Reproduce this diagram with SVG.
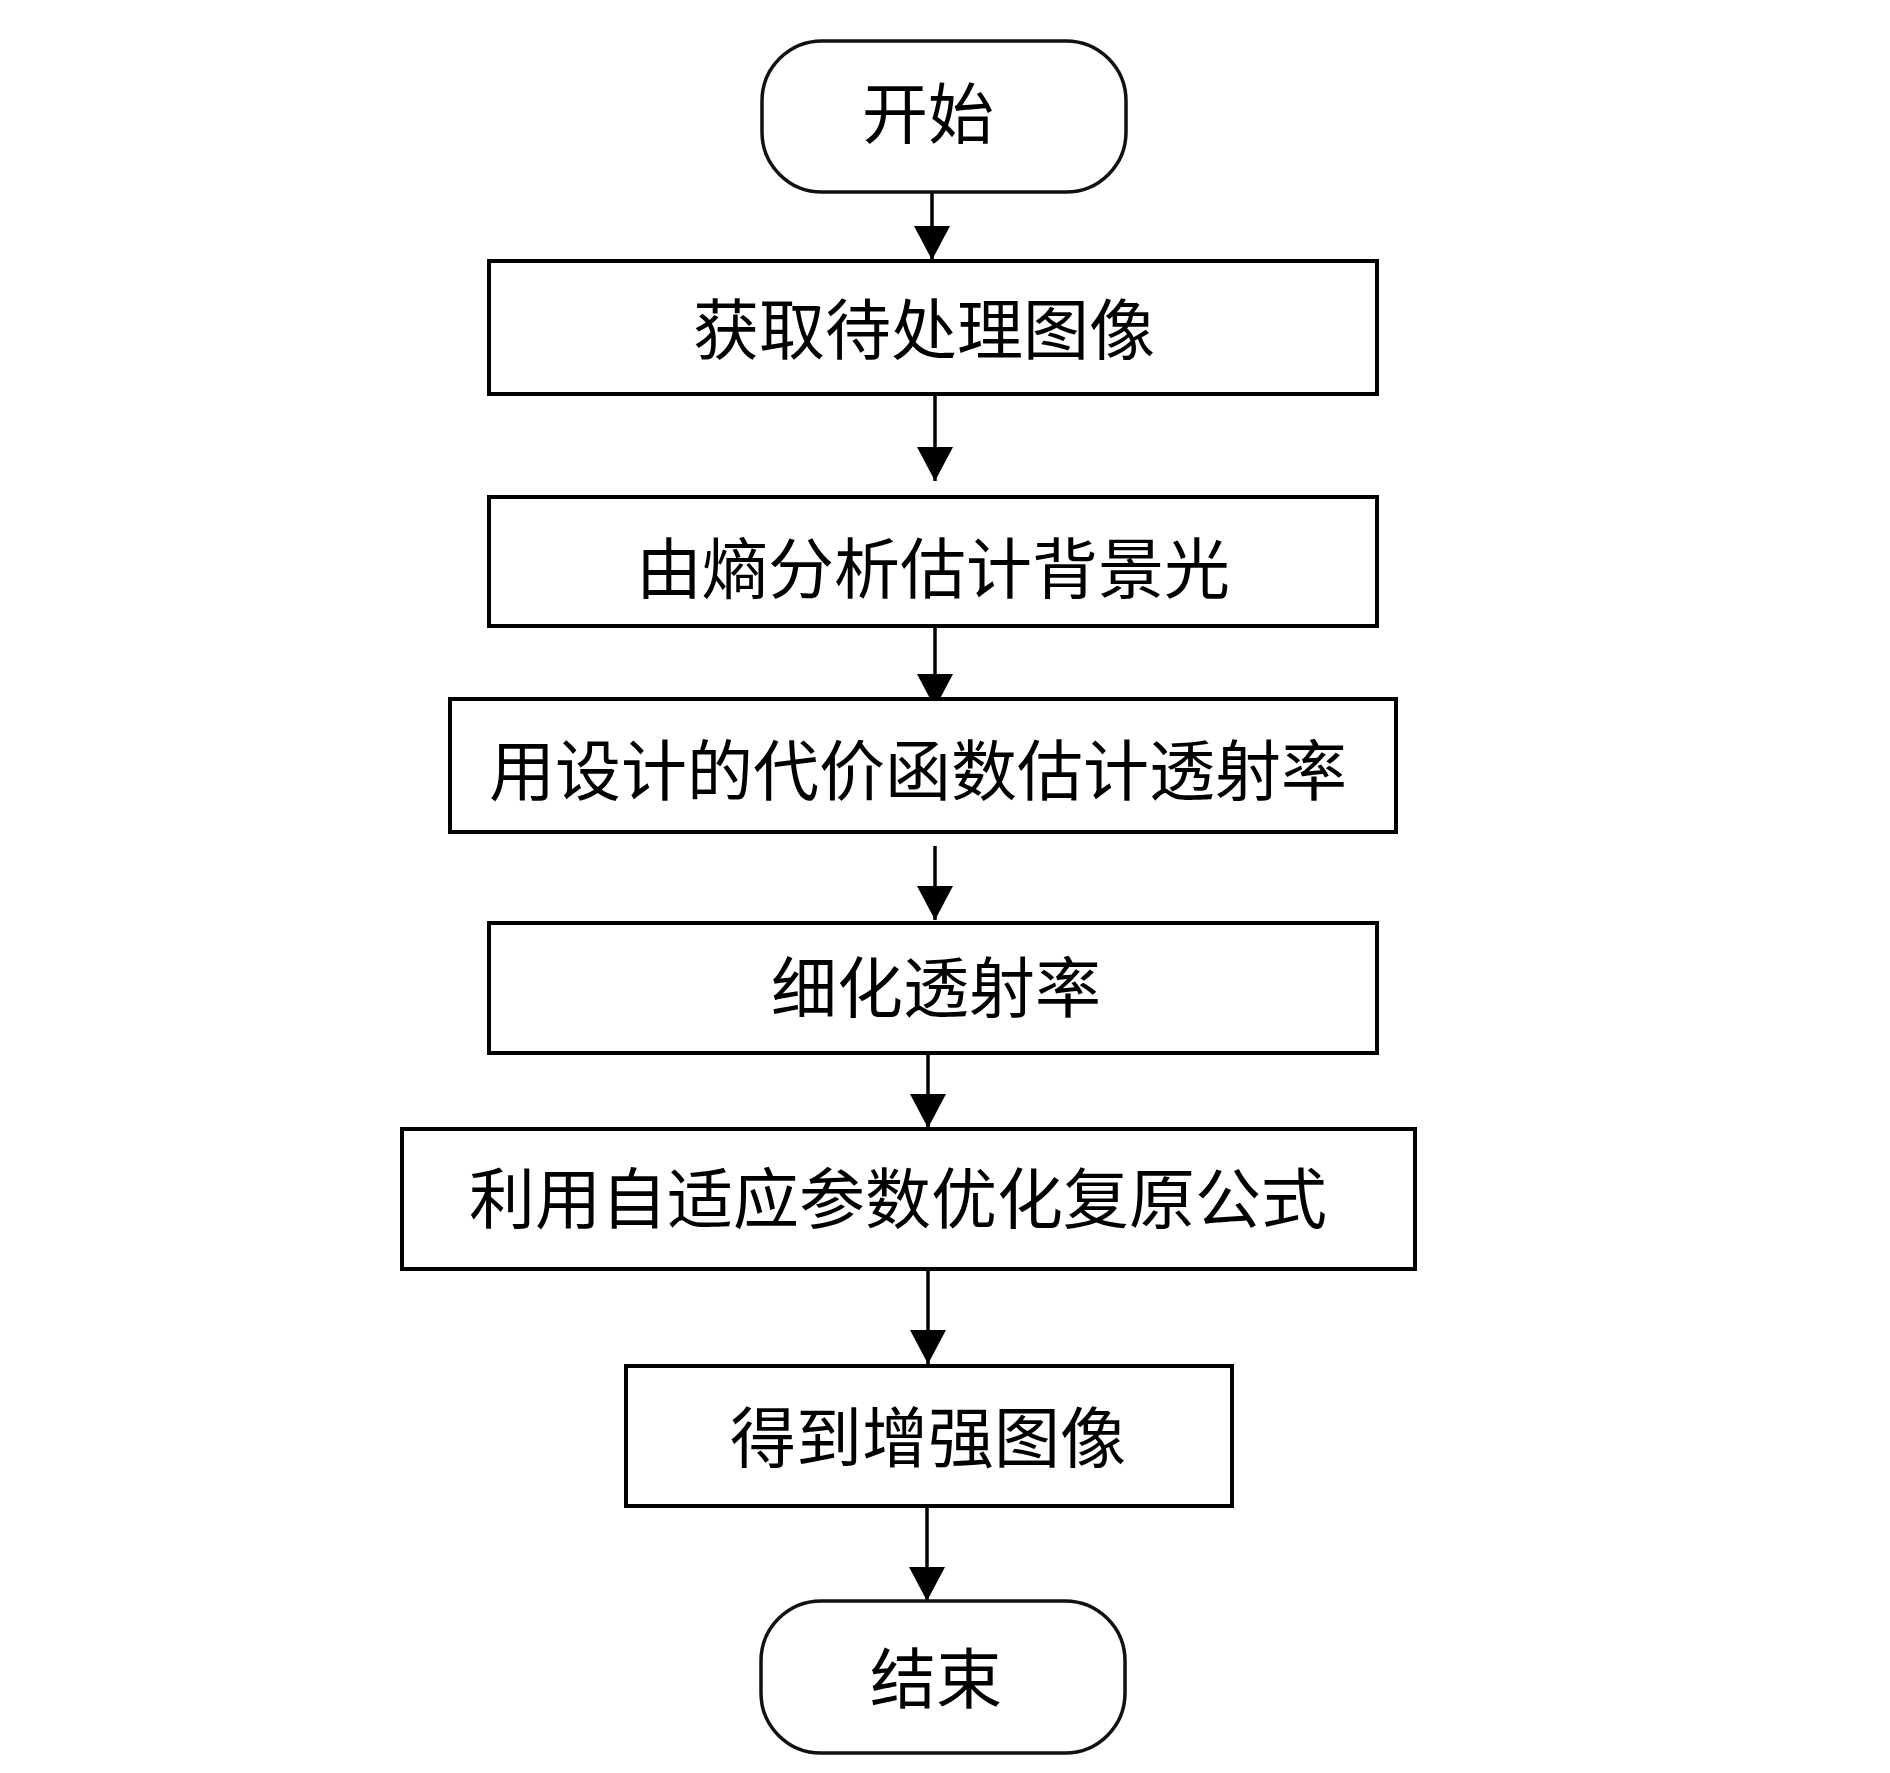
<svg xmlns="http://www.w3.org/2000/svg" width="1890" height="1773" viewBox="0 0 1890 1773">
<style>
.box{fill:#fff;stroke:#000;stroke-width:4}
.term{fill:#fff;stroke:#111;stroke-width:3.5}
.lbl{font-family:"Noto Sans CJK SC","Noto Sans CJK TC",sans-serif;font-size:66px;fill:#000;text-anchor:middle;dominant-baseline:central}
.conn{stroke:#000;stroke-width:3.5;fill:none;marker-end:url(#ah)}
</style>
<defs>
<marker id="ah" viewBox="0 0 34 36" refX="34" refY="18" markerWidth="34" markerHeight="36" markerUnits="userSpaceOnUse" orient="auto">
<path d="M0,0 L34,18 L0,36 Z" fill="#000"/>
</marker>
</defs>
<rect width="1890" height="1773" fill="#fff"/>
<g id="connectors">
<line class="conn" x1="932" y1="192" x2="932" y2="260"/>
<line class="conn" x1="935" y1="394" x2="935" y2="481"/>
<line class="conn" x1="935" y1="626" x2="935" y2="708"/>
<line class="conn" x1="935" y1="846" x2="935" y2="920"/>
<line class="conn" x1="928" y1="1053" x2="928" y2="1128"/>
<line class="conn" x1="928" y1="1269" x2="928" y2="1364"/>
<line class="conn" x1="927" y1="1506" x2="927" y2="1601"/>
</g>
<g id="start">
<rect class="term" x="762" y="41" width="364" height="151" rx="60" ry="60"/>
<text class="lbl" x="928" y="109">开始</text>
</g>
<g id="step1">
<rect class="box" x="489" y="261" width="888" height="133"/>
<text class="lbl" x="924" y="325">获取待处理图像</text>
</g>
<g id="step2">
<rect class="box" x="489" y="497" width="888" height="129"/>
<text class="lbl" x="933" y="564">由熵分析估计背景光</text>
</g>
<g id="step3">
<rect class="box" x="450" y="699" width="946" height="133"/>
<text class="lbl" x="918" y="766">用设计的代价函数估计透射率</text>
</g>
<g id="step4">
<rect class="box" x="489" y="923" width="888" height="130"/>
<text class="lbl" x="936" y="983">细化透射率</text>
</g>
<g id="step5">
<rect class="box" x="402" y="1129" width="1013" height="140"/>
<text class="lbl" x="898" y="1194">利用自适应参数优化复原公式</text>
</g>
<g id="step6">
<rect class="box" x="626" y="1366" width="606" height="140"/>
<text class="lbl" x="928" y="1433">得到增强图像</text>
</g>
<g id="end">
<rect class="term" x="761" y="1601" width="364" height="152" rx="60" ry="60"/>
<text class="lbl" x="936" y="1674">结束</text>
</g>
</svg>
